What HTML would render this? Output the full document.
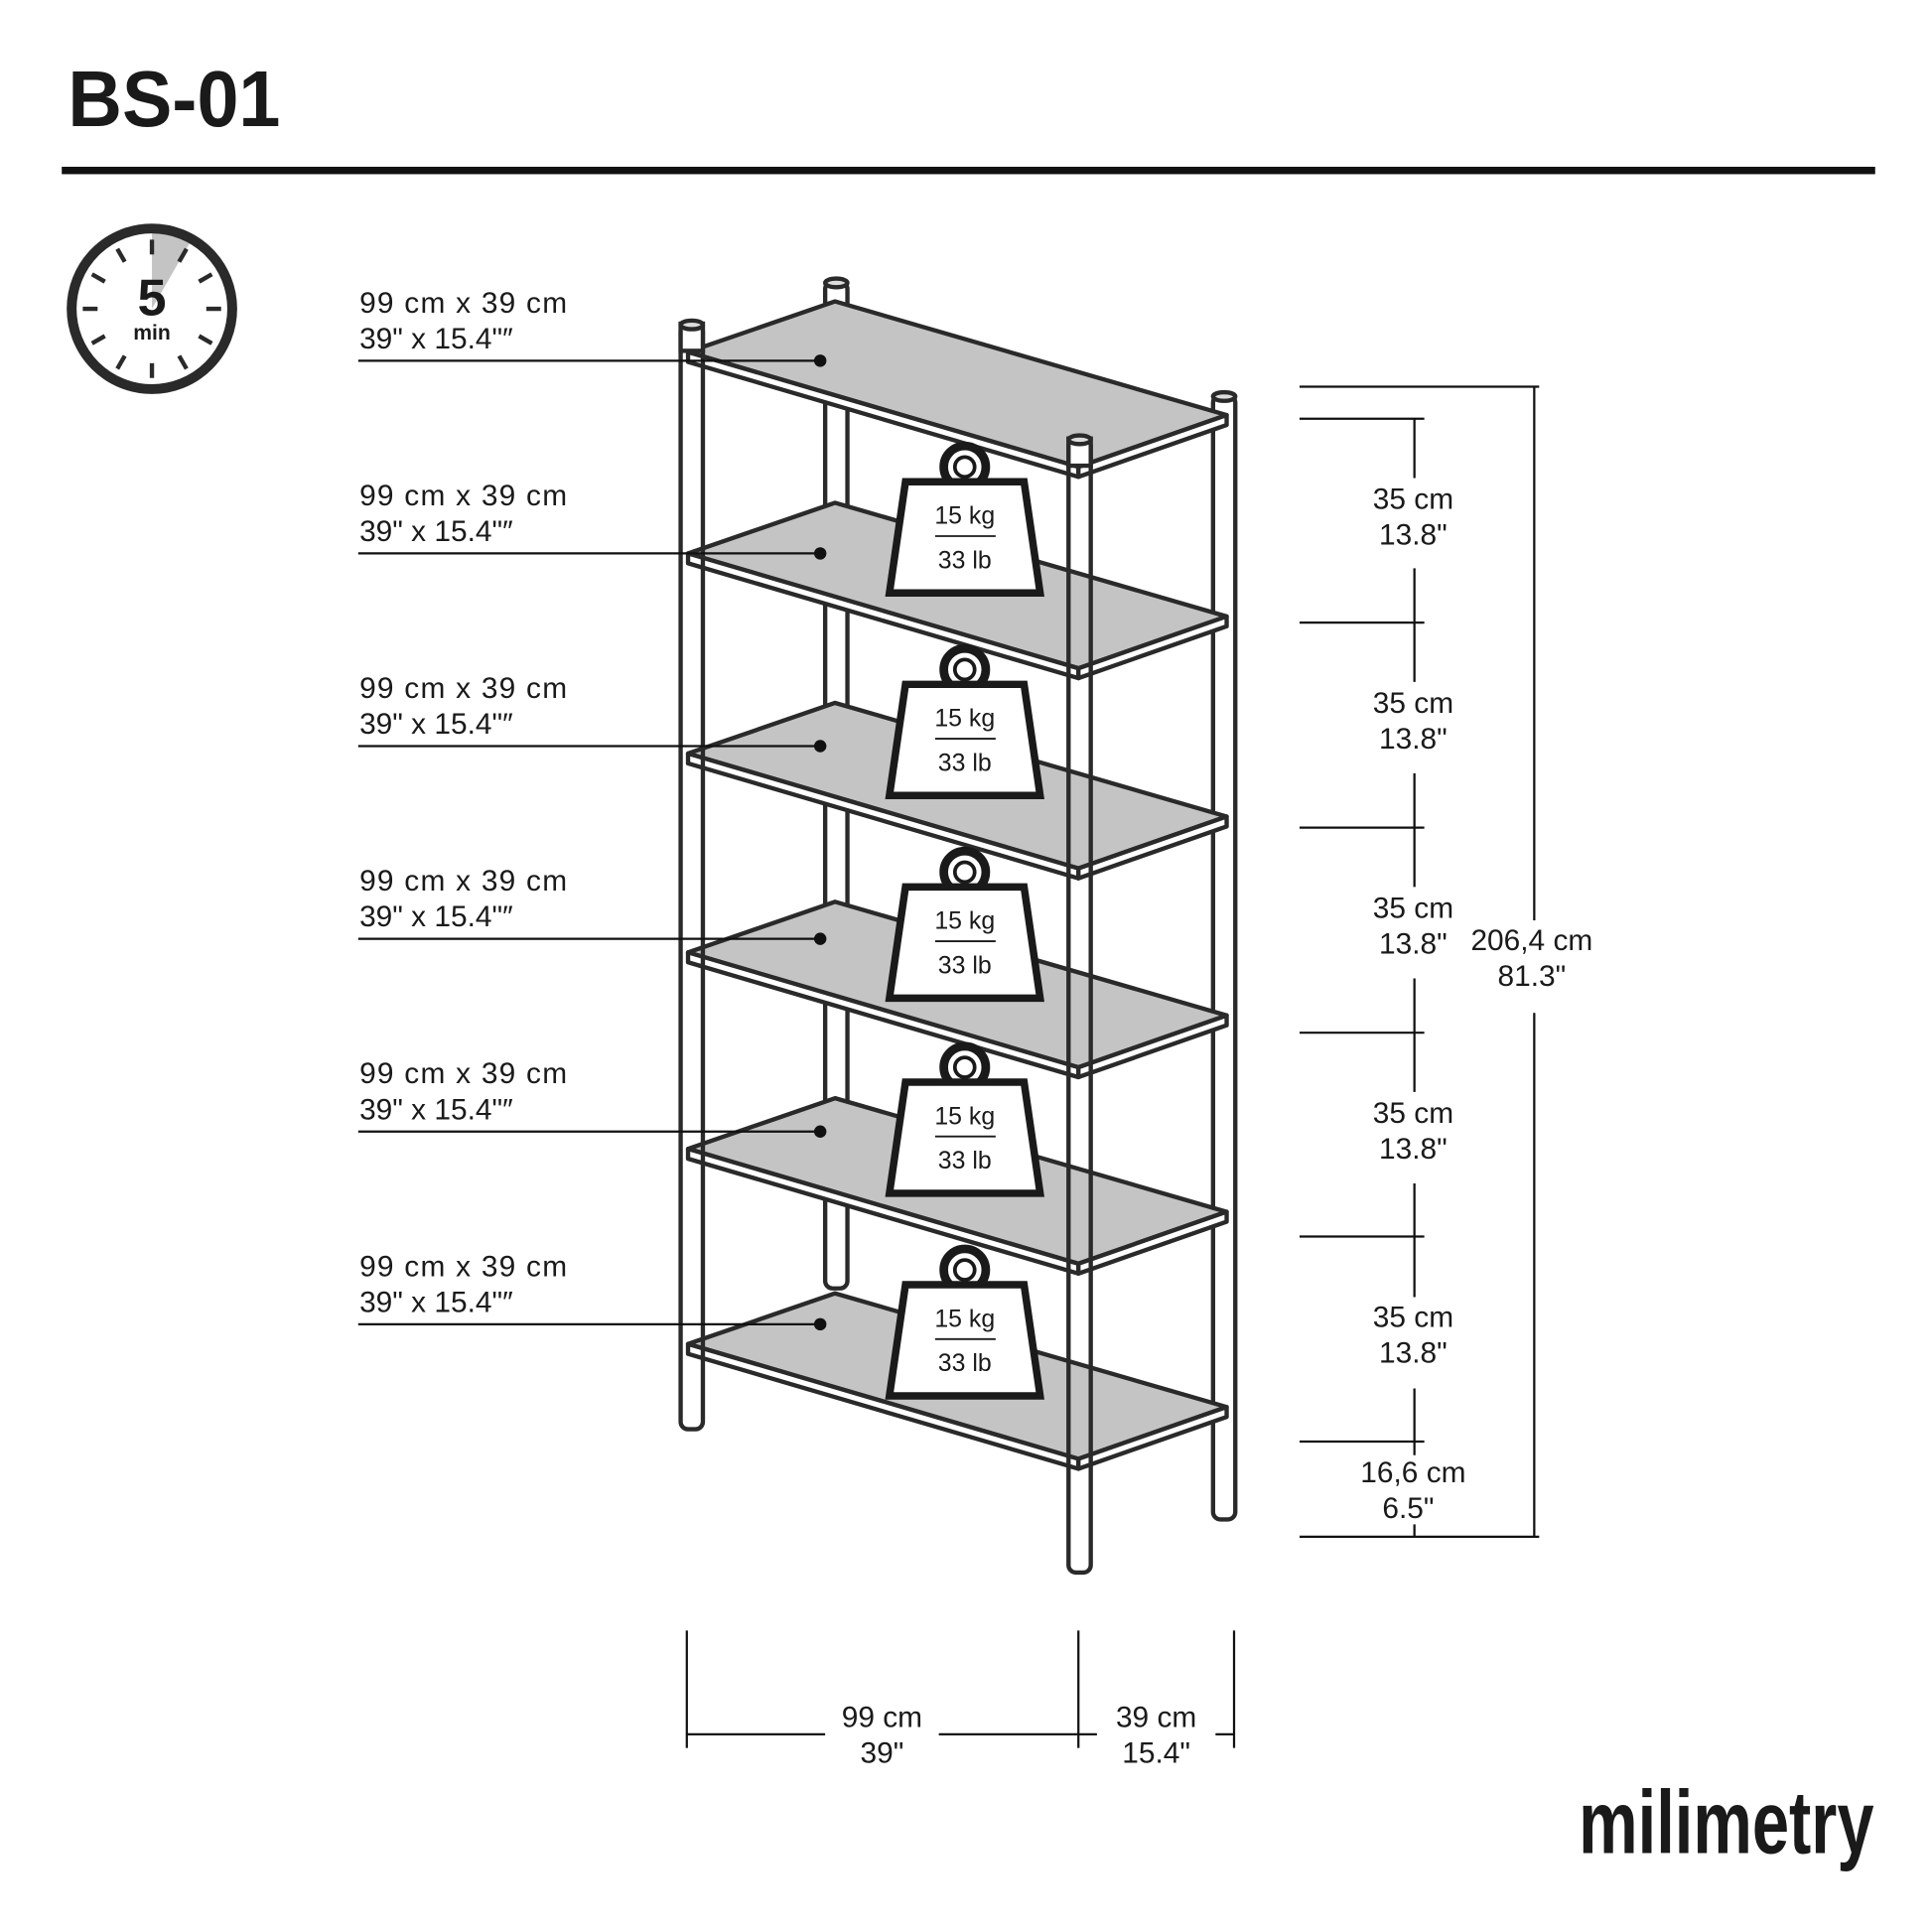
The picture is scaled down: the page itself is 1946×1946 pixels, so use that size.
<!DOCTYPE html>
<html><head><meta charset="utf-8"><style>
html,body{margin:0;padding:0;background:#fff;}
svg{display:block;}
text{font-family:"Liberation Sans",sans-serif;fill:#1a1a1a;}
</style></head><body>
<svg width="1946" height="1946" viewBox="0 0 1564 1564" xmlns="http://www.w3.org/2000/svg">
<text x="55" y="102" font-size="64" font-weight="bold" textLength="172" lengthAdjust="spacingAndGlyphs">BS-01</text>
<rect x="50" y="135" width="1468" height="6" fill="#111"/>

<!-- clock -->
<path d="M123,250 L123,188 A62,62 0 0 1 154,196 Z" fill="#c4c4c4"/>
<circle cx="123" cy="250" r="65" fill="none" stroke="#2a2a2a" stroke-width="8"/>
<g stroke="#2a2a2a" stroke-width="3.5">
<line x1="123" y1="194" x2="123" y2="206"/><line x1="123" y1="294" x2="123" y2="306"/>
<line x1="67" y1="250" x2="79" y2="250"/><line x1="167" y1="250" x2="179" y2="250"/>
<line x1="95" y1="201.5" x2="101" y2="211.9"/><line x1="151" y1="201.5" x2="145" y2="211.9"/>
<line x1="95" y1="298.5" x2="101" y2="288.1"/><line x1="151" y1="298.5" x2="145" y2="288.1"/>
<line x1="74.5" y1="222" x2="84.9" y2="228"/><line x1="171.5" y1="222" x2="161.1" y2="228"/>
<line x1="74.5" y1="278" x2="84.9" y2="272"/><line x1="171.5" y1="278" x2="161.1" y2="272"/>
</g>
<text x="123" y="255" font-size="42" font-weight="bold" text-anchor="middle">5</text>
<text x="123" y="275" font-size="17" font-weight="bold" text-anchor="middle">min</text>

<!-- back posts -->
<g stroke="#2a2a2a" stroke-width="3.5" fill="#fff">
<rect x="668" y="228" width="18" height="815" rx="6"/>
<ellipse cx="677" cy="229" rx="9" ry="3.5" fill="#ddd"/>
<rect x="982" y="320" width="18" height="910" rx="6"/>
<ellipse cx="991" cy="321" rx="9" ry="3.5" fill="#ddd"/>
</g>

<!-- shelves -->
<g stroke="#2a2a2a" stroke-width="3.5" stroke-linejoin="round">
<g><polygon points="557,285 676,244 993,336 873,378" fill="#c4c4c4"/><polygon points="557,285 873,378 873,386 557,293" fill="#fff"/><polygon points="873,378 993,336 993,344 873,386" fill="#fff"/></g>
<g transform="translate(0,163)"><polygon points="557,285 676,244 993,336 873,378" fill="#c4c4c4"/><polygon points="557,285 873,378 873,386 557,293" fill="#fff"/><polygon points="873,378 993,336 993,344 873,386" fill="#fff"/></g>
<g transform="translate(0,325)"><polygon points="557,285 676,244 993,336 873,378" fill="#c4c4c4"/><polygon points="557,285 873,378 873,386 557,293" fill="#fff"/><polygon points="873,378 993,336 993,344 873,386" fill="#fff"/></g>
<g transform="translate(0,486)"><polygon points="557,285 676,244 993,336 873,378" fill="#c4c4c4"/><polygon points="557,285 873,378 873,386 557,293" fill="#fff"/><polygon points="873,378 993,336 993,344 873,386" fill="#fff"/></g>
<g transform="translate(0,645)"><polygon points="557,285 676,244 993,336 873,378" fill="#c4c4c4"/><polygon points="557,285 873,378 873,386 557,293" fill="#fff"/><polygon points="873,378 993,336 993,344 873,386" fill="#fff"/></g>
<g transform="translate(0,803)"><polygon points="557,285 676,244 993,336 873,378" fill="#c4c4c4"/><polygon points="557,285 873,378 873,386 557,293" fill="#fff"/><polygon points="873,378 993,336 993,344 873,386" fill="#fff"/></g>
</g>

<!-- front posts -->
<g stroke="#2a2a2a" stroke-width="3.5" fill="#fff">
<rect x="551" y="262" width="18" height="895" rx="6" fill="none"/>
<rect x="551" y="262" width="18" height="22" fill="#fff"/>
<ellipse cx="560" cy="263" rx="9" ry="3.5" fill="#ddd"/>
<rect x="865" y="355" width="18" height="918" rx="6" fill="none"/>
<rect x="865" y="355" width="18" height="22" fill="#fff"/>
<ellipse cx="874" cy="356" rx="9" ry="3.5" fill="#ddd"/>
</g>

<!-- weights -->
<g>
<circle cx="781" cy="378" r="17" fill="#fff" stroke="#1a1a1a" stroke-width="7"/>
<circle cx="781" cy="378" r="8" fill="#fff" stroke="#1a1a1a" stroke-width="3"/>
<polygon points="733,390 829,390 842,480 720,480" fill="#fff" stroke="#1a1a1a" stroke-width="6"/>
<text x="781" y="424" font-size="20" text-anchor="middle">15 kg</text>
<line x1="757" y1="434" x2="806" y2="434" stroke="#1a1a1a" stroke-width="1.5"/>
<text x="781" y="460" font-size="20" text-anchor="middle">33 lb</text>
</g>
<g transform="translate(0,164)"><circle cx="781" cy="378" r="17" fill="#fff" stroke="#1a1a1a" stroke-width="7"/><circle cx="781" cy="378" r="8" fill="#fff" stroke="#1a1a1a" stroke-width="3"/><polygon points="733,390 829,390 842,480 720,480" fill="#fff" stroke="#1a1a1a" stroke-width="6"/><text x="781" y="424" font-size="20" text-anchor="middle">15 kg</text><line x1="757" y1="434" x2="806" y2="434" stroke="#1a1a1a" stroke-width="1.5"/><text x="781" y="460" font-size="20" text-anchor="middle">33 lb</text></g>
<g transform="translate(0,328)"><circle cx="781" cy="378" r="17" fill="#fff" stroke="#1a1a1a" stroke-width="7"/><circle cx="781" cy="378" r="8" fill="#fff" stroke="#1a1a1a" stroke-width="3"/><polygon points="733,390 829,390 842,480 720,480" fill="#fff" stroke="#1a1a1a" stroke-width="6"/><text x="781" y="424" font-size="20" text-anchor="middle">15 kg</text><line x1="757" y1="434" x2="806" y2="434" stroke="#1a1a1a" stroke-width="1.5"/><text x="781" y="460" font-size="20" text-anchor="middle">33 lb</text></g>
<g transform="translate(0,486)"><circle cx="781" cy="378" r="17" fill="#fff" stroke="#1a1a1a" stroke-width="7"/><circle cx="781" cy="378" r="8" fill="#fff" stroke="#1a1a1a" stroke-width="3"/><polygon points="733,390 829,390 842,480 720,480" fill="#fff" stroke="#1a1a1a" stroke-width="6"/><text x="781" y="424" font-size="20" text-anchor="middle">15 kg</text><line x1="757" y1="434" x2="806" y2="434" stroke="#1a1a1a" stroke-width="1.5"/><text x="781" y="460" font-size="20" text-anchor="middle">33 lb</text></g>
<g transform="translate(0,650)"><circle cx="781" cy="378" r="17" fill="#fff" stroke="#1a1a1a" stroke-width="7"/><circle cx="781" cy="378" r="8" fill="#fff" stroke="#1a1a1a" stroke-width="3"/><polygon points="733,390 829,390 842,480 720,480" fill="#fff" stroke="#1a1a1a" stroke-width="6"/><text x="781" y="424" font-size="20" text-anchor="middle">15 kg</text><line x1="757" y1="434" x2="806" y2="434" stroke="#1a1a1a" stroke-width="1.5"/><text x="781" y="460" font-size="20" text-anchor="middle">33 lb</text></g>

<!-- left labels -->
<g font-size="24">
<text x="291" y="253" textLength="168">99 cm x 39 cm</text><text x="291" y="282">39" x 15.4"″</text>
<text x="291" y="409" textLength="168">99 cm x 39 cm</text><text x="291" y="438">39" x 15.4"″</text>
<text x="291" y="565" textLength="168">99 cm x 39 cm</text><text x="291" y="594">39" x 15.4"″</text>
<text x="291" y="721" textLength="168">99 cm x 39 cm</text><text x="291" y="750">39" x 15.4"″</text>
<text x="291" y="877" textLength="168">99 cm x 39 cm</text><text x="291" y="906">39" x 15.4"″</text>
<text x="291" y="1033" textLength="168">99 cm x 39 cm</text><text x="291" y="1062">39" x 15.4"″</text>
</g>
<g stroke="#111" stroke-width="1.8">
<line x1="290" y1="292" x2="664" y2="292"/><line x1="290" y1="448" x2="664" y2="448"/>
<line x1="290" y1="604" x2="664" y2="604"/><line x1="290" y1="760" x2="664" y2="760"/>
<line x1="290" y1="916" x2="664" y2="916"/><line x1="290" y1="1072" x2="664" y2="1072"/>
</g>
<g fill="#111">
<circle cx="664" cy="292" r="5"/><circle cx="664" cy="448" r="5"/><circle cx="664" cy="604" r="5"/>
<circle cx="664" cy="760" r="5"/><circle cx="664" cy="916" r="5"/><circle cx="664" cy="1072" r="5"/>
</g>

<!-- right dims -->
<g stroke="#111" stroke-width="1.8">
<line x1="1052" y1="313" x2="1246" y2="313"/>
<line x1="1052" y1="1244" x2="1246" y2="1244"/>
<line x1="1052" y1="339" x2="1153" y2="339"/>
<line x1="1052" y1="504" x2="1153" y2="504"/>
<line x1="1052" y1="670" x2="1153" y2="670"/>
<line x1="1052" y1="836" x2="1153" y2="836"/>
<line x1="1052" y1="1001" x2="1153" y2="1001"/>
<line x1="1052" y1="1167" x2="1153" y2="1167"/>
<line x1="1242" y1="313" x2="1242" y2="745"/>
<line x1="1242" y1="820" x2="1242" y2="1244"/>
<line x1="1145" y1="339" x2="1145" y2="387"/><line x1="1145" y1="460" x2="1145" y2="552"/>
<line x1="1145" y1="626" x2="1145" y2="718"/><line x1="1145" y1="792" x2="1145" y2="884"/>
<line x1="1145" y1="958" x2="1145" y2="1050"/><line x1="1145" y1="1124" x2="1145" y2="1178"/>
<line x1="1145" y1="1234" x2="1145" y2="1244"/>
</g>
<g font-size="24" text-anchor="middle">
<text x="1144" y="412">35 cm</text><text x="1144" y="441">13.8"</text>
<text x="1144" y="577">35 cm</text><text x="1144" y="606">13.8"</text>
<text x="1144" y="743">35 cm</text><text x="1144" y="772">13.8"</text>
<text x="1144" y="909">35 cm</text><text x="1144" y="938">13.8"</text>
<text x="1144" y="1074">35 cm</text><text x="1144" y="1103">13.8"</text>
<text x="1144" y="1200">16,6 cm</text><text x="1140" y="1229">6.5"</text>
<text x="1240" y="769">206,4 cm</text><text x="1240" y="798">81.3"</text>
</g>

<!-- bottom dims -->
<g stroke="#111" stroke-width="1.8">
<line x1="556" y1="1320" x2="556" y2="1415"/>
<line x1="873" y1="1320" x2="873" y2="1415"/>
<line x1="999" y1="1320" x2="999" y2="1415"/>
<line x1="556" y1="1404" x2="668" y2="1404"/>
<line x1="760" y1="1404" x2="888" y2="1404"/>
<line x1="984" y1="1404" x2="999" y2="1404"/>
</g>
<g font-size="24" text-anchor="middle">
<text x="714" y="1398">99 cm</text><text x="714" y="1427">39"</text>
<text x="936" y="1398">39 cm</text><text x="936" y="1427">15.4"</text>
</g>

<!-- logo -->
<text x="1278" y="1500" font-size="72" font-weight="bold" textLength="239" lengthAdjust="spacingAndGlyphs" fill="#2a2a2a">milimetry</text>
</svg>
</body></html>
